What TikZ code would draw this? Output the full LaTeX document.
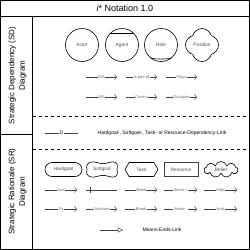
\documentclass[tikz,border=0pt]{standalone}
\usepackage{fontspec}
\setmainfont{Liberation Sans}
\usetikzlibrary{arrows.meta, shapes.geometric, shapes.symbols, shapes.misc, calc}

\tikzset{
  frameline/.style={line width=1pt},
  sepline/.style={line width=0.8pt, dash pattern=on 3pt off 3pt},
  actorshape/.style={circle, draw, line width=0.6pt, minimum size=33pt, inner sep=0pt,
    font=\fontsize{4.8}{5}\selectfont, text=black!70},
  elemshape/.style={draw, line width=0.6pt, minimum width=33pt, minimum height=14pt, inner sep=0pt,
    font=\fontsize{4.8}{5}\selectfont, text=black!70},
  link/.style={line width=0.45pt, draw=black!75, -{Straight Barb[length=2.2pt,width=5pt]}},
  plainlink/.style={line width=0.45pt, draw=black!75},
  linklabel/.style={fill=white, inner sep=0.6pt, font=\fontsize{4}{4.5}\selectfont, text=black!60},
  legendtext/.style={font=\fontsize{5}{6}\selectfont},
}

\begin{document}
\begin{tikzpicture}[x=1pt, y=-1pt]
    \useasboundingbox (0,0) rectangle (250,250);

    % --- Frame and headings ---
    \draw[frameline] (0.5,0.5) rectangle (249.5,249.5);
    \draw[frameline] (0.5,16.5) -- (249.5,16.5);
    \draw[frameline] (33,16.5) -- (33,249.5);
    \draw[frameline] (0.5,134) -- (33,134);
    \draw[sepline] (33,116.5) -- (249.5,116.5);
    \draw[sepline] (33,149.5) -- (249.5,149.5);

    \node (title) at (125,8.5) {\fontsize{9}{10}\selectfont{\itshape i}* Notation 1.0};
    \node[rotate=90, align=center, font=\fontsize{8}{10.5}\selectfont] (sdhead) at (17.5,75.5)
        {Strategic Dependency (SD)\\Diagram};
    \node[rotate=90, align=center, font=\fontsize{8}{10.5}\selectfont] (srhead) at (17.5,191.5)
        {Strategic Rationale (SR)\\Diagram};

    % --- SD actors ---
    \node[actorshape] (actor) at (82,45) {Actor};
    \node[actorshape] (agent) at (122,45) {Agent};
    \draw[line width=0.6pt] (agent.138) -- (agent.42);
    \node[actorshape] (role) at (161,45) {Role};
    \draw[line width=0.6pt] (role.-128) to[bend right=8] (role.-52);
    \node[actorshape, circle=false, cloud, cloud puffs=4, aspect=1, shape border rotate=45] (position) at (202,45) {Position};

    % --- SD links ---
    \foreach \lab [count=\i] in {ISA, Is part of, Plays} {
        \coordinate (sda\i) at ({86+40*(\i-1)},77);
        \coordinate (sdb\i) at ({117+40*(\i-1)},77);
        \draw[link] (sda\i) -- node[linklabel] {\lab} (sdb\i);
    }
    \foreach \lab [count=\i] in {INS, Covers, Occupies} {
        \coordinate (sdc\i) at ({86+40*(\i-1)},97);
        \coordinate (sdd\i) at ({117+40*(\i-1)},97);
        \draw[link] (sdc\i) -- node[linklabel] {\lab} (sdd\i);
    }

    % --- Dependency link ---
    \coordinate (dep-s) at (45,133);
    \coordinate (dep-e) at (78,133);
    \draw[plainlink] (dep-s) -- node[fill=white, inner sep=0.5pt, legendtext] {D} (dep-e);
    \node[legendtext] (deptext) at (162,133) {Hardgoal-, Softgoal-, Task- or Resource-Dependency-Link};

    % --- SR elements ---
    \node[elemshape, rounded rectangle, minimum width=37pt] (hardgoal) at (63.5,169.5) {Hardgoal};
    \node[elemshape, draw=none] (softgoal) at (102,169.5) {Softgoal};
    \draw[line width=0.6pt, shift={(softgoal)}] (-15,0)
        .. controls (-17,-8) and (-10,-8.5) .. (-5,-7)
        .. controls (-1,-5.5) and (3,-5.5) .. (7,-7)
        .. controls (12,-8.5) and (17,-8) .. (15,0)
        .. controls (17,8) and (12,8.5) .. (7,7)
        .. controls (3,5.5) and (-1,5.5) .. (-5,7)
        .. controls (-10,8.5) and (-17,8) .. (-15,0) -- cycle;
    \node[elemshape, signal, signal to=west and east, signal pointer angle=120] (task) at (141.5,169.5) {Task};
    \node[elemshape, line width=0.9pt, draw=black!75, minimum width=34pt] (resource) at (181,169.5) {Resource};
    \node[elemshape, cloud, cloud puffs=9, aspect=2.4, minimum width=34pt, minimum height=16pt] (belief) at (221,169.5) {Belief};

    % --- SR links ---
    \foreach \xa/\xb/\lab [count=\i] in {45/77/And, 125/157/Make, 164/197/Some +, 204/237/Help} {
        \coordinate (sre\i) at (\xa,190);
        \coordinate (srf\i) at (\xb,190);
        \draw[link] (sre\i) -- node[linklabel] {\lab} (srf\i);
    }
    \coordinate (dec-s) at (86,190);
    \coordinate (dec-e) at (117,190);
    \draw[plainlink] (dec-s) -- (dec-e);
    \draw[plainlink] ([xshift=4pt]dec-s) ++(0,-3) -- ++(0,6);
    \foreach \xa/\xb/\lab [count=\i] in {45/77/Or, 86/117/Unknown, 125/157/Break, 164/197/Some -, 204/237/Hurt} {
        \coordinate (srg\i) at (\xa,209);
        \coordinate (srh\i) at (\xb,209);
        \draw[link] (srg\i) -- node[linklabel] {\lab} (srh\i);
    }

    % --- Means-ends link ---
    \coordinate (me-s) at (100,230);
    \coordinate (me-e) at (123,230);
    \draw[plainlink, -{Triangle[open, length=5pt, width=5pt]}] (me-s) -- (me-e);
    \node[legendtext] (metext) at (162,230) {Means-Ends-Link};

\end{tikzpicture}
\end{document}
